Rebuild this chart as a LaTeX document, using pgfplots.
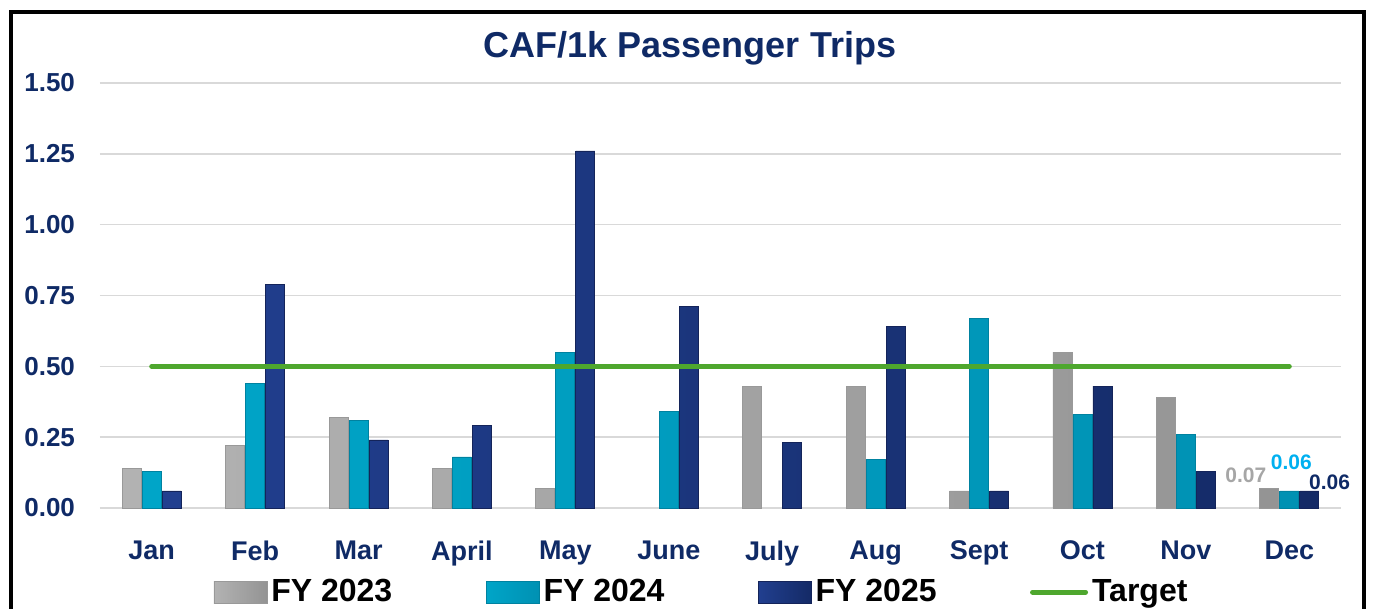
\documentclass[border=0pt]{standalone}
\usepackage{pgfplots}
\pgfplotsset{compat=1.18}
\usepackage{fontspec}
\setmainfont{Liberation Sans}

\definecolor{navytxt}{HTML}{0F2A66}
\definecolor{gridgray}{HTML}{D9D9D9}
\definecolor{targetgreen}{HTML}{4EA72E}
\definecolor{lblgray}{HTML}{A6A6A6}
\definecolor{lblcyan}{HTML}{00B0F0}

\pgfplotsset{
  barlegend/.style={legend image code/.code={\draw[##1] (0pt,-5.5pt) rectangle (26.5pt,5.5pt);}},
  linelegend/.style={legend image code/.code={\draw[##1] (0pt,0pt) -- (26.5pt,0pt);}},
  fy23/.style={ybar, bar width=9.5pt, bar shift=-10pt, draw=black!40,
    left color=black!30, middle color=black!20, right color=black!42, barlegend},
  fy24/.style={ybar, bar width=9.5pt, bar shift=0pt, draw={rgb,255:red,0;green,130;blue,160},
    left color={rgb,255:red,0;green,165;blue,200}, middle color={rgb,255:red,25;green,192;blue,224},
    right color={rgb,255:red,0;green,145;blue,179}, barlegend},
  fy25/.style={ybar, bar width=9.5pt, bar shift=10pt, draw={rgb,255:red,20;green,36;blue,90},
    left color={rgb,255:red,33;green,63;blue,143}, middle color={rgb,255:red,42;green,75;blue,160},
    right color={rgb,255:red,20;green,42;blue,102}, barlegend},
}

\begin{document}
\begin{tikzpicture}
\begin{axis}[
    name=ax,
    scale only axis,
    width=620.5pt, height=212.5pt,
    xmin=-0.5, xmax=11.5,
    ymin=0, ymax=1.5,
    clip=false,
    xtick={0,...,11},
    xticklabels={Jan,Feb,Mar,April,May,June,July,Aug,Sept,Oct,Nov,Dec},
    ytick={0,0.25,0.5,0.75,1,1.25,1.5},
    yticklabel style={/pgf/number format/fixed, /pgf/number format/fixed zerofill,
      /pgf/number format/precision=2},
    /pgf/number format/assume math mode=true,
    ymajorgrids,
    grid style={gridgray, line width=0.8pt},
    axis line style={draw=none},
    tick style={draw=none},
    ticklabel style={text=navytxt},
    yticklabel style={font=\fontsize{13}{15}\selectfont\bfseries, xshift=-9pt},
    xticklabel style={font=\fontsize{13.5}{16}\selectfont\bfseries, yshift=-13pt},
    legend columns=4,
    legend style={at={(0.4855,-0.198)}, anchor=center, draw=none, fill=none,
      font=\fontsize{16}{19}\selectfont\bfseries,
      /tikz/every even column/.append style={column sep=44.7pt}},
]

\addplot[fy23] coordinates {(0,0.14) (1,0.22) (2,0.32) (3,0.14) (4,0.07)
  (6,0.43) (7,0.43) (8,0.06) (9,0.55) (10,0.39) (11,0.07)};
\addlegendentry{FY 2023}

\addplot[fy24] coordinates {(0,0.13) (1,0.44) (2,0.31) (3,0.18) (4,0.55) (5,0.34)
  (7,0.17) (8,0.67) (9,0.33) (10,0.26) (11,0.06)};
\addlegendentry{FY 2024}

\addplot[fy25] coordinates {(0,0.06) (1,0.79) (2,0.24) (3,0.29) (4,1.26) (5,0.71)
  (6,0.23) (7,0.64) (8,0.06) (9,0.43) (10,0.13) (11,0.06)};
\addlegendentry{FY 2025}

\addplot[sharp plot, targetgreen, line width=2.5pt, line cap=round, linelegend]
  coordinates {(0,0.5) (11,0.5)};
\addlegendentry{Target}

\node[text=lblgray, font=\fontsize{10.5}{12}\selectfont\bfseries] at (axis cs:10.58,0.116) {0.07};
\node[text=lblcyan, font=\fontsize{10.5}{12}\selectfont\bfseries] at (axis cs:11.02,0.162) {0.06};
\node[text=navytxt, font=\fontsize{10.5}{12}\selectfont\bfseries] at (axis cs:11.39,0.092) {0.06};
\end{axis}

\node[anchor=base, text=navytxt, font=\fontsize{18}{22}\selectfont\bfseries]
  at ([shift={(295pt,225pt)}]ax.south west) {CAF/1k Passenger Trips};

\draw[line width=2pt] ([shift={(-44.5pt,-52pt)}]ax.south west) -- ++(0,300pt)
  -- ++(676.5pt,0) -- ++(0,-300pt);

\pgfresetboundingbox
\useasboundingbox ([shift={(-50pt,-50.5pt)}]ax.south west) rectangle ([shift={(636.5pt,254pt)}]ax.south west);
\end{tikzpicture}
\end{document}
